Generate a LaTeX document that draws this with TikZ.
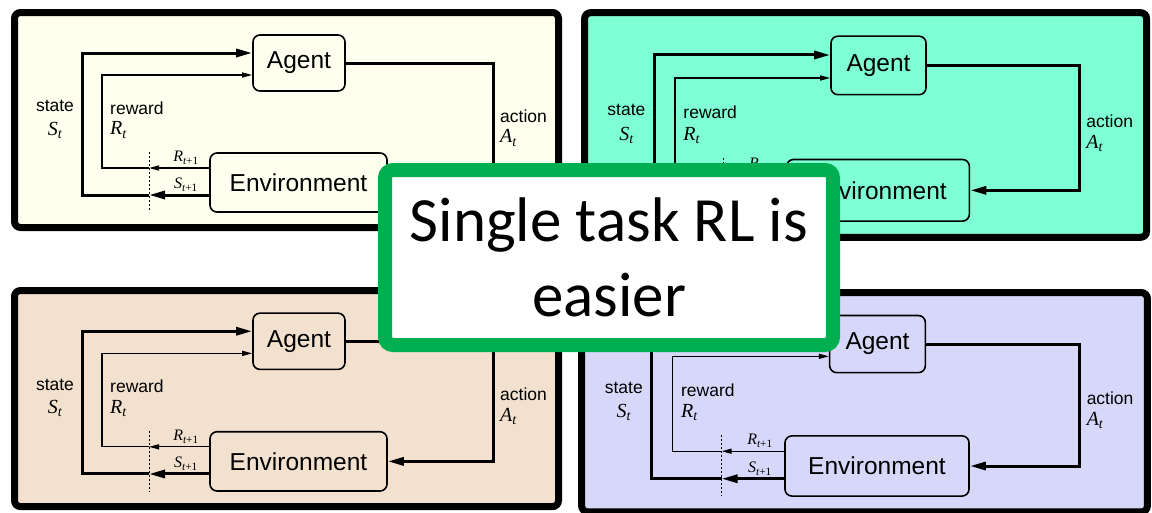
\documentclass[tikz,border=0pt]{standalone}
\usepackage{fontspec}
\usetikzlibrary{arrows.meta}
\newfontfamily\sansfont{Liberation Sans}
\newfontfamily\timesfont{Liberation Serif}
\newfontfamily\calfont{Carlito}
\definecolor{paneA}{RGB}{255,255,240}
\definecolor{paneB}{RGB}{127,255,212}
\definecolor{paneC}{RGB}{242,225,206}
\definecolor{paneD}{RGB}{215,215,250}
\definecolor{okgreen}{RGB}{0,176,80}
\tikzset{
  panelframe/.style={line width=7pt, rounded corners=6pt},
  agentbox/.style={draw, line width=1.6pt, rounded corners=7pt, inner sep=0pt,
    font=\sansfont\fontsize{24.5}{28}\selectfont},
  statearrow/.style={line width=3pt, -{Triangle[length=16pt,width=8pt]}},
  thinarrow/.style={line width=1.3pt, -{Triangle[length=10pt,width=5pt]}},
  lbl/.style={inner sep=0pt, font=\sansfont\fontsize{17.5}{20}\selectfont},
  sym/.style={inner sep=0pt, font=\timesfont\itshape\fontsize{20}{22}\selectfont},
  subsym/.style={inner sep=0pt, font=\timesfont\itshape\fontsize{16}{18}\selectfont},
  msgbox/.style={draw=okgreen, line width=14pt, fill=white, rounded corners=8pt,
    align=center, font=\calfont\fontsize{63}{75}\selectfont}
}
% one agent/environment loop: prefix, x, y, xscale, yscale, fill
\newcommand{\rlpanel}[6]{%
  \begin{scope}[shift={(#2,#3)}, xscale=#4, yscale=#5, name prefix=#1-]
    \draw[panelframe, fill=#6] (3.5,3.5) rectangle (547.5,218.5);
    \node[agentbox, minimum width=#4*92pt, minimum height=#5*56pt] (agent) at (288,54) {Agent};
    \node[agentbox, minimum width=#4*177pt, minimum height=#5*59pt] (env) at (287.5,173.5) {Environment};
    \coordinate (cutR) at (138,159);
    \coordinate (cutS) at (138,186);
    \coordinate (stateC) at (71,44);
    \coordinate (rewardC) at (91,66);
    \coordinate (actionC) at (482,110);
    \draw[dashed, line width=0.8pt, dash pattern=on 2pt off 2pt] (138,143) -- (138,203);
    \draw[thinarrow] (env.west |- cutR) -- (cutR);
    \draw[statearrow] (env.west |- cutS) -- (cutS);
    \draw[statearrow] (cutS) -| (stateC) -- (agent.west |- stateC);
    \draw[thinarrow] (cutR) -| (rewardC) -- (agent.west |- rewardC);
    \draw[statearrow] (agent.east) -| (actionC) |- (env.east);
    \node[lbl] (stateL) at (44,97) {state};
    \node[sym] (stateS) at (44,121) {S\textsubscript{t}};
    \node[lbl, anchor=west] (rewardL) at (99,99) {reward};
    \node[sym, anchor=west] (rewardS) at (99,121) {R\textsubscript{t}};
    \node[lbl, anchor=west] (actionL) at (489,107) {action};
    \node[sym, anchor=west] (actionS) at (489,129) {A\textsubscript{t}};
    \node[subsym] (nextR) at (175,149) {R\textsubscript{t\upshape+1}};
    \node[subsym] (nextS) at (175,176) {S\textsubscript{t\upshape+1}};
  \end{scope}}

\begin{document}
\begin{tikzpicture}[x=1pt,y=-1pt]
  \useasboundingbox[fill=white] (0,0) rectangle (1152,512);
  \rlpanel{tl}{11}{9}{1}{1}{paneA}
  \rlpanel{tr}{581}{9}{1.033}{1.045}{paneB}
  \rlpanel{bl}{11}{287}{1}{1.005}{paneC}
  \rlpanel{br}{578}{289}{1.04}{1.02}{paneD}
  \node[msgbox, minimum width=448pt, minimum height=175pt] (msg) at (609,257.5)
    {Single task RL is\\easier};
\end{tikzpicture}
\end{document}
